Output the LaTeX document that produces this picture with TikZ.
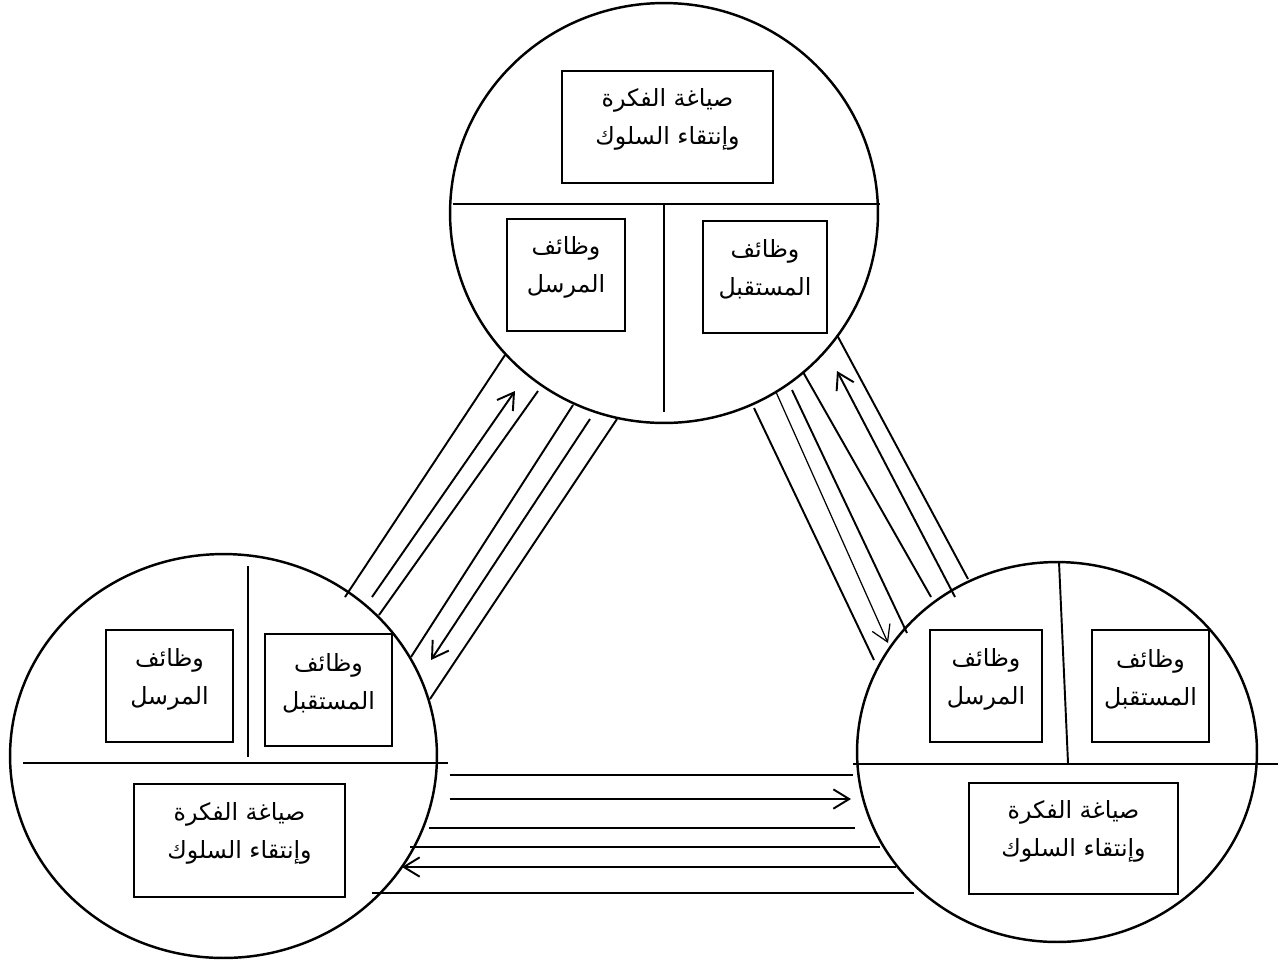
\documentclass[tikz,border=0pt]{standalone}
\usepackage{fontspec}
\newfontfamily\arabicfont[Script=Arabic]{DejaVu Sans}
\TeXXeTstate=1
\usetikzlibrary{arrows.meta,shapes.geometric}
\begin{document}
\begin{tikzpicture}[x=0.02cm,y=-0.02cm,
  circ/.style={draw, ellipse, line width=1.4pt, inner sep=0pt, outer sep=0pt},
  box/.style={draw, rectangle, line width=1.2pt, inner sep=0pt, outer sep=0pt},
  lbl/.style={font={\arabicfont\fontsize{13.5}{21.5}\selectfont}, align=center, inner sep=0pt},
  sep/.style={line width=1.1pt},
  link/.style={line width=1.1pt},
  thinlink/.style={line width=0.7pt},
  arr/.style={-{Straight Barb[length=9pt,width=11pt]}}]
\useasboundingbox (0,0) rectangle (1283,961);

% circles
\node[circ, minimum width=8.56cm, minimum height=8.4cm] (top) at (664,213) {};
\node[circ, minimum width=8.54cm, minimum height=8.08cm] (left) at (223.5,756) {};
\node[circ, minimum width=8cm, minimum height=7.6cm] (right) at (1057,752) {};

% dividers
\coordinate (th1) at (453,204); \coordinate (th2) at (880,204);
\coordinate (tv1) at (664,204); \coordinate (tv2) at (664,412);
\draw[sep] (th1) -- (th2); \draw[sep] (tv1) -- (tv2);
\coordinate (lh1) at (23,763); \coordinate (lh2) at (448,763);
\coordinate (lv1) at (248,566); \coordinate (lv2) at (248,757);
\draw[sep] (lh1) -- (lh2); \draw[sep] (lv1) -- (lv2);
\coordinate (rh1) at (853,764); \coordinate (rh2) at (1278,764);
\coordinate (rv1) at (1059,562); \coordinate (rv2) at (1068,763);
\draw[sep] (rh1) -- (rh2); \draw[sep] (rv1) -- (rv2);

% boxes - top
\node[box, minimum width=4.22cm, minimum height=2.24cm] (tidea) at (667.5,127) {};
\node[box, minimum width=2.36cm, minimum height=2.24cm] (tsend) at (566,275) {};
\node[box, minimum width=2.48cm, minimum height=2.24cm] (trecv) at (765,277) {};
% boxes - left
\node[box, minimum width=2.54cm, minimum height=2.24cm] (lsend) at (169.5,686) {};
\node[box, minimum width=2.54cm, minimum height=2.24cm] (lrecv) at (328.5,690) {};
\node[box, minimum width=4.22cm, minimum height=2.26cm] (lidea) at (239.5,840.5) {};
% boxes - right
\node[box, minimum width=2.24cm, minimum height=2.24cm] (rsend) at (986,686) {};
\node[box, minimum width=2.34cm, minimum height=2.24cm] (rrecv) at (1150.5,686) {};
\node[box, minimum width=4.18cm, minimum height=2.22cm] (ridea) at (1073.5,838.5) {};

% labels
\newcommand{\ideatext}{\beginR صياغة الفكرة\endR\\\beginR وإنتقاء السلوك\endR}
\newcommand{\sendtext}{\beginR وظائف\endR\\\beginR المرسل\endR}
\newcommand{\recvtext}{\beginR وظائف\endR\\\beginR المستقبل\endR}
\node[lbl] (tideaT) at ([yshift=0.15cm]tidea.center) {\ideatext};
\node[lbl] (tsendT) at ([yshift=0.15cm]tsend.center) {\sendtext};
\node[lbl] (trecvT) at ([yshift=0.15cm]trecv.center) {\recvtext};
\node[lbl] (lsendT) at ([yshift=0.13cm]lsend.center) {\sendtext};
\node[lbl] (lrecvT) at ([yshift=0.13cm]lrecv.center) {\recvtext};
\node[lbl] (lideaT) at ([yshift=0.15cm]lidea.center) {\ideatext};
\node[lbl] (rsendT) at ([yshift=0.13cm]rsend.center) {\sendtext};
\node[lbl] (rrecvT) at ([yshift=0.13cm]rrecv.center) {\recvtext};
\node[lbl] (rideaT) at ([yshift=0.15cm]ridea.center) {\ideatext};

% connectors top-left
\coordinate (a1s) at (345,597); \coordinate (a1e) at (505,355);
\coordinate (a2s) at (372,597); \coordinate (a2e) at (515,391);
\coordinate (a3s) at (379,615); \coordinate (a3e) at (538,391);
\coordinate (a4s) at (411,657); \coordinate (a4e) at (573,405);
\coordinate (a5s) at (590,419); \coordinate (a5e) at (431,660);
\coordinate (a6s) at (430,699); \coordinate (a6e) at (617,419);
\draw[link] (a1s) -- (a1e);
\draw[link,arr] (a2s) -- (a2e);
\draw[link] (a3s) -- (a3e);
\draw[link] (a4s) -- (a4e);
\draw[link,arr] (a5s) -- (a5e);
\draw[link] (a6s) -- (a6e);

% connectors top-right
\coordinate (b1s) at (754,408); \coordinate (b1e) at (874,660);
\coordinate (b2s) at (776,392); \coordinate (b2e) at (888,643);
\coordinate (b3s) at (792,390); \coordinate (b3e) at (907,633);
\coordinate (b4s) at (803,372); \coordinate (b4e) at (931,597);
\coordinate (b5s) at (955,597); \coordinate (b5e) at (837,371);
\coordinate (b6s) at (837,335); \coordinate (b6e) at (968,579);
\draw[link] (b1s) -- (b1e);
\draw[thinlink,arr] (b2s) -- (b2e);
\draw[link] (b3s) -- (b3e);
\draw[link] (b4s) -- (b4e);
\draw[link,arr] (b5s) -- (b5e);
\draw[link] (b6s) -- (b6e);

% connectors bottom
\coordinate (c1s) at (450,775); \coordinate (c1e) at (853,775);
\coordinate (c2s) at (450,799); \coordinate (c2e) at (851,799);
\coordinate (c3s) at (429,828); \coordinate (c3e) at (855,828);
\coordinate (c4s) at (410,847); \coordinate (c4e) at (880,847);
\coordinate (c5s) at (896,867); \coordinate (c5e) at (402,867);
\coordinate (c6s) at (372,893); \coordinate (c6e) at (914,893);
\draw[link] (c1s) -- (c1e);
\draw[link,arr] (c2s) -- (c2e);
\draw[link] (c3s) -- (c3e);
\draw[link] (c4s) -- (c4e);
\draw[link,arr] (c5s) -- (c5e);
\draw[link] (c6s) -- (c6e);
\end{tikzpicture}
\end{document}
